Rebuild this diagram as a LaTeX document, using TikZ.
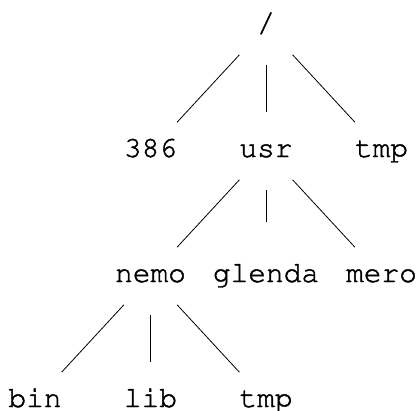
\documentclass[tikz,border=0pt]{standalone}
\usepackage[T1]{fontenc}
\usepackage{courier}
\newcommand{\heavytext}[1]{\special{pdf:literal 2 Tr 0.45 w}#1\special{pdf:literal 0 Tr}}
\begin{document}
\begin{tikzpicture}[x=1pt,y=-1pt,
  dir/.style={circle, minimum size=78pt, inner sep=0pt, text height=12pt, text depth=0pt,
    font=\ttfamily\fontsize{29.5}{30}\selectfont},
  edge/.style={line width=0.8pt}]
\useasboundingbox (0,0) rectangle (417,410);
\node[dir] (root) at (266,26) {\heavytext{/}};
\node[dir] (n386) at (150.5,151) {\heavytext{386}};
\node[dir] (usr) at (266,151) {\heavytext{usr}};
\node[dir] (tmpa) at (381.5,151) {\heavytext{tmp}};
\node[dir] (nemo) at (150.5,276) {\heavytext{nemo}};
\node[dir] (glenda) at (266,276) {\heavytext{glenda}};
\node[dir] (mero) at (381.5,276) {\heavytext{mero}};
\node[dir] (bin) at (35,401) {\heavytext{bin}};
\node[dir] (lib) at (150.5,401) {\heavytext{lib}};
\node[dir] (tmpb) at (266,401) {\heavytext{tmp}};
\draw[edge] (root) -- (n386);
\draw[edge] (root) -- (usr);
\draw[edge] (root) -- (tmpa);
\draw[edge] (usr) -- (nemo);
\draw[edge] (usr) -- (glenda);
\draw[edge] (usr) -- (mero);
\draw[edge] (nemo) -- (bin);
\draw[edge] (nemo) -- (lib);
\draw[edge] (nemo) -- (tmpb);
\end{tikzpicture}
\end{document}
